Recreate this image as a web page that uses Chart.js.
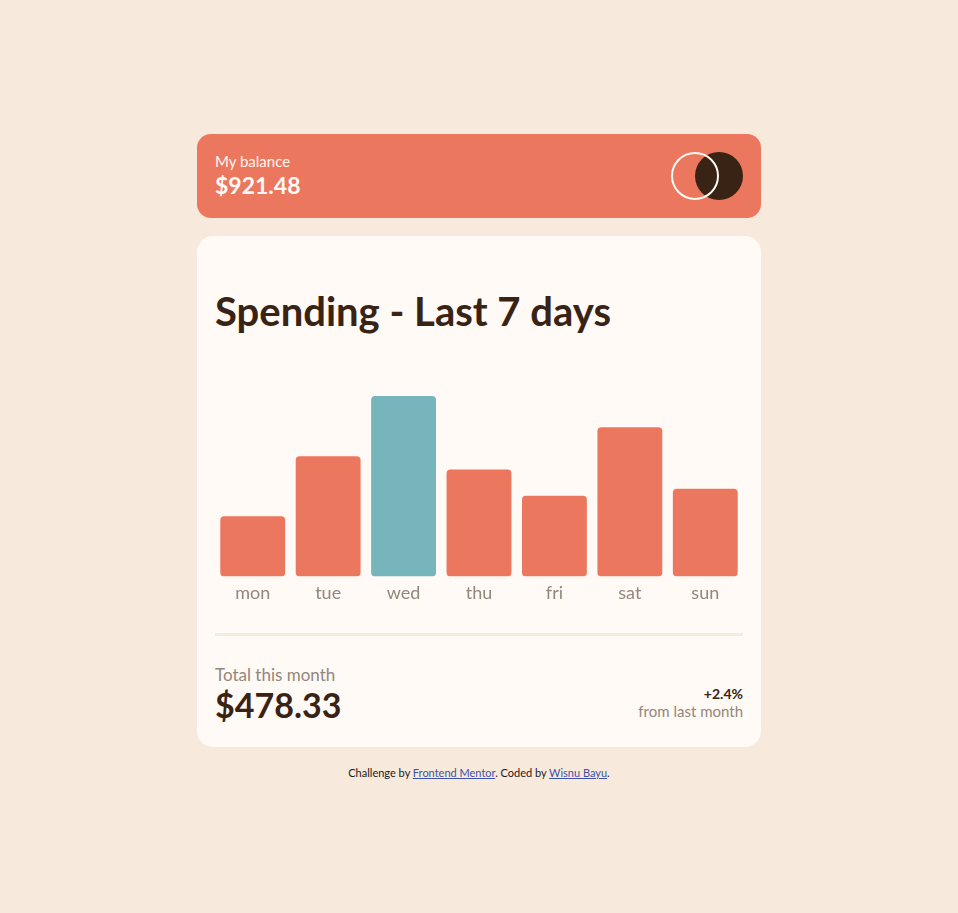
<!DOCTYPE html>
<html>
<head>
<meta charset="utf-8">
<script src="https://cdn.jsdelivr.net/npm/chart.js@4"></script>
<style>
  body { margin: 0; background: #f8e9dd; font-family: Lato, sans-serif; width: 958px; height: 913px; position: relative; overflow: hidden; }
  .balance { position: absolute; left: 197px; top: 134px; width: 564px; height: 84px; background: #ec775f; border-radius: 14px; }
  .balance .lbl { position: absolute; left: 18px; top: 18px; color: #fff6ee; font-size: 15px; }
  .balance .amt { position: absolute; left: 18px; top: 37px; color: #fffaf5; font-size: 23px; font-weight: 700; }
  .c1 { position: absolute; left: 498px; top: 18px; width: 48px; height: 48px; border-radius: 50%; background: #382314; }
  .c2 { position: absolute; left: 474px; top: 18px; width: 48px; height: 48px; border-radius: 50%; border: 2px solid #fffaf5; box-sizing: border-box; }
  .card { position: absolute; left: 197px; top: 236px; width: 564px; height: 511px; background: #fffaf5; border-radius: 16px; }
  h1 { position: absolute; left: 18px; top: 51px; margin: 0; color: #382314; font-size: 40px; font-weight: 700; }
  #wrap { position: absolute; left: 18px; top: 120px; width: 528px; height: 254px; }
  .line { position: absolute; left: 18px; top: 397px; width: 528px; height: 3px; background: #f8e9dd; }
  .tot { position: absolute; left: 18px; top: 428px; color: #93867b; font-size: 17px; }
  .tamt { position: absolute; left: 18px; top: 448px; color: #382314; font-size: 34px; font-weight: 700; }
  .pct { position: absolute; right: 18px; top: 449px; color: #382314; font-size: 14px; font-weight: 700; text-align: right; }
  .from { position: absolute; right: 18px; top: 466px; color: #93867b; font-size: 15px; text-align: right; }
  .foot { position: absolute; left: 0; width: 958px; top: 766px; text-align: center; font-size: 11px; color: #1a1a1a; }
  .foot a { color: #3e52a3; }
</style>
</head>
<body>
<div class="balance">
  <div class="lbl">My balance</div>
  <div class="amt">$921.48</div>
  <div class="c1"></div>
  <div class="c2"></div>
</div>
<div class="card">
  <h1>Spending - Last 7 days</h1>
  <div id="wrap"><canvas id="barchart"></canvas></div>
  <div class="line"></div>
  <div class="tot">Total this month</div>
  <div class="tamt">$478.33</div>
  <div class="pct">+2.4%</div>
  <div class="from">from last month</div>
</div>
<div class="foot">Challenge by <a href="#">Frontend Mentor</a>. Coded by <a href="#">Wisnu Bayu</a>.</div>
<script>
const days = ["mon", "tue", "wed", "thu", "fri", "sat", "sun"];
const amounts = [17.45, 34.91, 52.36, 31.07, 23.39, 43.28, 25.48];

const canvasbar = document.getElementById("barchart");
const maxAmount = Math.max(...amounts);
const colors = amounts.map((a) => (a === maxAmount ? "#76b5bc" : "#ec775f"));

new Chart(canvasbar, {
  type: "bar",
  data: {
    labels: days,
    datasets: [
      {
        data: amounts,
        backgroundColor: colors,
        hoverBackgroundColor: colors,
        borderRadius: 4,
        borderSkipped: false,
        barPercentage: 0.86,
        categoryPercentage: 1,
      },
    ],
  },
  options: {
    responsive: true,
    maintainAspectRatio: false,
    animation: false,
    layout: { padding: 0 },
    plugins: {
      legend: { display: false },
      tooltip: { enabled: false },
    },
    scales: {
      x: {
        grid: { display: false, drawTicks: false },
        border: { display: false },
        ticks: { color: "#93867b", font: { family: "Lato", size: 18 }, padding: 6 },
      },
      y: {
        display: false,
        min: 0,
        max: 64,
      },
    },
  },
});
</script>
</body>
</html>
